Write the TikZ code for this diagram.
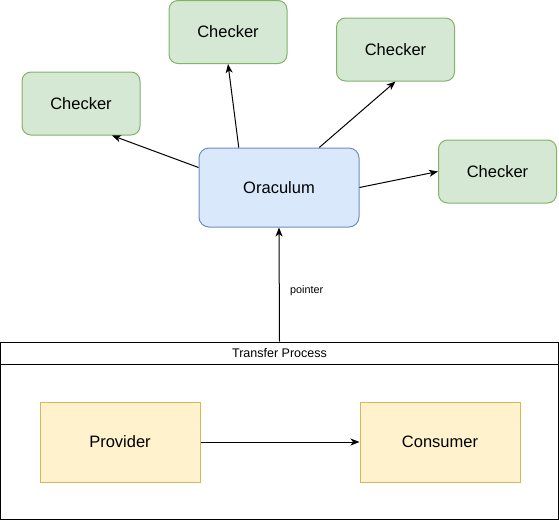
\documentclass[tikz,border=0pt]{standalone}
\usepackage{fontspec}
\setmainfont{Liberation Sans}
\usetikzlibrary{arrows.meta,calc}
\definecolor{greenfill}{HTML}{D5E8D4}
\definecolor{greenline}{HTML}{82B366}
\definecolor{bluefill}{HTML}{DAE8FC}
\definecolor{blueline}{HTML}{6C8EBF}
\definecolor{yellowfill}{HTML}{FFF2CC}
\definecolor{yellowline}{HTML}{D6B656}
\tikzstyle{checker} = [
  draw=greenline,
  fill=greenfill,
  rounded corners=9pt,
  minimum width=118pt,
  minimum height=63pt,
  font=\fontsize{16.5}{19}\selectfont,
]
\tikzstyle{oracle} = [
  draw=blueline,
  fill=bluefill,
  rounded corners=10pt,
  minimum width=160pt,
  minimum height=79pt,
  font=\fontsize{16.5}{19}\selectfont,
]
\tikzstyle{party} = [
  draw=yellowline,
  fill=yellowfill,
  minimum width=160pt,
  minimum height=80pt,
  font=\fontsize{16.5}{19}\selectfont,
]
\tikzstyle{lane} = [
  draw,
  minimum width=558pt,
  minimum height=177.5pt,
]
\tikzstyle{lanehead} = [
  draw,
  minimum width=558pt,
  minimum height=22.5pt,
  font=\fontsize{12.5}{15}\selectfont,
]

\begin{document}
\begin{tikzpicture}[
    x=1pt,
    y=-1pt,
    line width=1pt,
    >={Stealth[length=9pt,width=7pt,inset=2.5pt]},
  ]
  \useasboundingbox (0,0) rectangle (559,520);
  % checkers round the oracle
  \node[checker] (checkerl) at (81,103.5) {Checker};
  \node[checker] (checkert) at (228,32) {Checker};
  \node[checker] (checkerr) at (395.5,49.5) {Checker};
  \node[checker] (checkerf) at (497.5,171.5) {Checker};
  \node[oracle] (oraculum) at (279,187.5) {Oraculum};
  % transfer process lane
  \node[lane] (transfer) at (279.5,430.75) {};
  \node[
    lanehead,
    anchor=north,
  ] (transferhead) at (transfer.north) {Transfer Process};
  \node[party] (provider) at (120,442) {Provider};
  \node[party] (consumer) at (440,442) {Consumer};
  \draw[->] ($(oraculum.north west)!0.25!(oraculum.south west)$)
    -- ($(checkerl.south west)!0.76!(checkerl.south east)$);
  \draw[->] ($(oraculum.north west)!0.25!(oraculum.north east)$) -- (checkert.south);
  \draw[->] ($(oraculum.north west)!0.75!(oraculum.north east)$) -- (checkerr.south);
  \draw[->] (oraculum.east) -- (checkerf.west);
  \draw[->] (transferhead.north) -- node[
    right=7pt,
    pos=0.45,
    font=\fontsize{10.8}{13}\selectfont,
  ] (pointer) {pointer} (oraculum.south);
  \draw[->] (provider) -- (consumer);
\end{tikzpicture}
\end{document}
